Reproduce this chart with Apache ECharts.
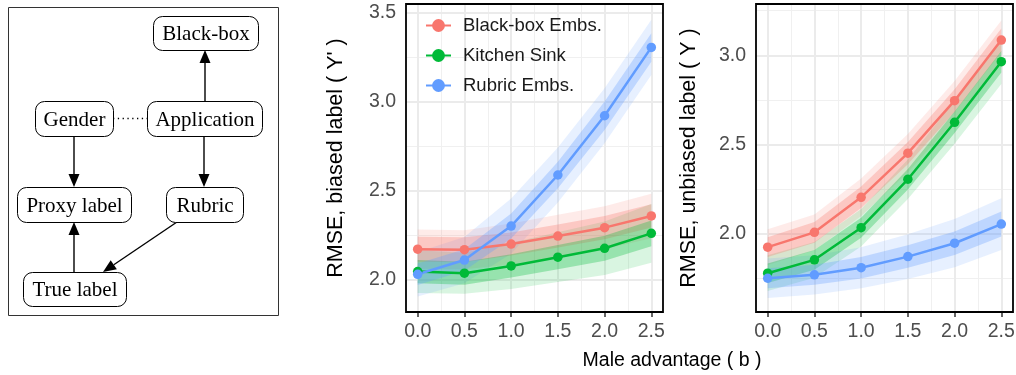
<!DOCTYPE html>
<html>
<head>
<meta charset="utf-8">
<script src="https://cdn.jsdelivr.net/npm/echarts@6/dist/echarts.min.js"></script>
<style>
  html, body { margin: 0; padding: 0; background: #fff; }
  #chart { width: 1016px; height: 375px; }
</style>
</head>
<body>
<div id="chart"></div>
<script>
const xValues = [0, 0.5, 1, 1.5, 2, 2.5];
const xTicks = [0, 0.5, 1, 1.5, 2, 2.5];
const xMinor = [0.25, 0.75, 1.25, 1.75, 2.25];
const biasedTicks = [2.0, 2.5, 3.0, 3.5];
const biasedMinor = [2.25, 2.75, 3.25];
const unbiasedTicks = [2.0, 2.5, 3.0];
const unbiasedMinor = [1.75, 2.25, 2.75, 3.25];

const seriesNames = ['Black-box Embs.', 'Kitchen Sink', 'Rubric Embs.'];
const seriesColors = ['#F8766D', '#00BA38', '#619CFF'];

// RMSE on the biased label (Y')
const biasedBlackbox = [2.169, 2.166, 2.198, 2.243, 2.290, 2.356];
const biasedKitchen = [2.043, 2.034, 2.075, 2.124, 2.174, 2.258];
const biasedRubric = [2.028, 2.108, 2.299, 2.586, 2.919, 3.303];
// bands as [low, high]
const biasedBlackboxInner = [[2.099, 2.239], [2.096, 2.236], [2.133, 2.263], [2.178, 2.308], [2.225, 2.355], [2.291, 2.421]];
const biasedBlackboxOuter = [[2.059, 2.279], [2.056, 2.276], [2.083, 2.313], [2.123, 2.363], [2.170, 2.410], [2.231, 2.481]];
const biasedKitchenInner = [[1.978, 2.108], [1.969, 2.099], [2.010, 2.140], [2.056, 2.192], [2.104, 2.244], [2.186, 2.330]];
const biasedKitchenOuter = [[1.923, 2.163], [1.919, 2.149], [1.945, 2.205], [1.984, 2.264], [2.024, 2.324], [2.093, 2.423]];
const biasedRubricInner = [[1.968, 2.088], [2.048, 2.168], [2.229, 2.369], [2.511, 2.661], [2.839, 2.999], [3.223, 3.383]];
const biasedRubricOuter = [[1.903, 2.153], [1.978, 2.238], [2.144, 2.454], [2.431, 2.741], [2.764, 3.074], [3.148, 3.458]];

// RMSE on the unbiased label (Y)
const unbiasedBlackbox = [1.926, 2.009, 2.205, 2.452, 2.746, 3.085];
const unbiasedKitchen = [1.780, 1.855, 2.035, 2.306, 2.625, 2.964];
const unbiasedRubric = [1.752, 1.771, 1.811, 1.873, 1.948, 2.055];
const unbiasedBlackboxInner = [[1.871, 1.981], [1.951, 2.067], [2.145, 2.265], [2.390, 2.514], [2.682, 2.810], [3.020, 3.150]];
const unbiasedBlackboxOuter = [[1.826, 2.026], [1.909, 2.109], [2.100, 2.310], [2.344, 2.560], [2.636, 2.856], [2.975, 3.195]];
const unbiasedKitchenInner = [[1.725, 1.835], [1.800, 1.910], [1.979, 2.091], [2.248, 2.364], [2.565, 2.685], [2.904, 3.024]];
const unbiasedKitchenOuter = [[1.680, 1.880], [1.755, 1.955], [1.930, 2.140], [2.196, 2.416], [2.505, 2.745], [2.839, 3.089]];
const unbiasedRubricInner = [[1.696, 1.808], [1.715, 1.827], [1.751, 1.871], [1.810, 1.936], [1.882, 2.014], [1.985, 2.125]];
const unbiasedRubricOuter = [[1.642, 1.862], [1.661, 1.881], [1.696, 1.926], [1.748, 1.998], [1.813, 2.083], [1.910, 2.200]];

// causal diagram on the left
const diagramNodes = [
  { label: 'Black-box', x: 153, y: 16, w: 105, h: 34 },
  { label: 'Gender', x: 35, y: 101, w: 78, h: 35 },
  { label: 'Application', x: 147, y: 101, w: 115, h: 35 },
  { label: 'Proxy label', x: 17, y: 187, w: 114, h: 35 },
  { label: 'Rubric', x: 166, y: 187, w: 77, h: 35 },
  { label: 'True label', x: 23, y: 272, w: 103, h: 34 }
];
const diagramArrows = [
  [205, 101, 205, 50],
  [74, 136, 74, 187],
  [204, 136, 204, 187],
  [74, 272, 74, 222],
  [177, 222, 103, 272]
];

const sans = "'Liberation Sans', Arial, Helvetica, sans-serif";
const serif = "'Liberation Serif', 'Times New Roman', serif";

const panels = [
  {
    left: 406, yMin: 1.816, yMax: 3.547, yTicks: biasedTicks, yMinor: biasedMinor,
    title: "RMSE, biased label ( Y' )", nameGap: 59,
    lines: [biasedBlackbox, biasedKitchen, biasedRubric],
    inner: [biasedBlackboxInner, biasedKitchenInner, biasedRubricInner],
    outer: [biasedBlackboxOuter, biasedKitchenOuter, biasedRubricOuter]
  },
  {
    left: 756, yMin: 1.563, yMax: 3.287, yTicks: unbiasedTicks, yMinor: unbiasedMinor,
    title: 'RMSE, unbiased label ( Y )', nameGap: 56,
    lines: [unbiasedBlackbox, unbiasedKitchen, unbiasedRubric],
    inner: [unbiasedBlackboxInner, unbiasedKitchenInner, unbiasedRubricInner],
    outer: [unbiasedBlackboxOuter, unbiasedKitchenOuter, unbiasedRubricOuter]
  }
];

function rgba(hex, a) {
  const n = parseInt(hex.slice(1), 16);
  return 'rgba(' + (n >> 16) + ',' + ((n >> 8) & 255) + ',' + (n & 255) + ',' + a + ')';
}

function gridSeries(g, p) {
  const major = { color: '#EBEBEB', width: 2, type: 'solid' };
  const minor = { color: '#F0F0F0', width: 1.1, type: 'solid' };
  const data = []
    .concat(xMinor.map(v => ({ xAxis: v, lineStyle: minor })))
    .concat(p.yMinor.map(v => ({ yAxis: v, lineStyle: minor })))
    .concat(xTicks.map(v => ({ xAxis: v, lineStyle: major })))
    .concat(p.yTicks.map(v => ({ yAxis: v, lineStyle: major })));
  return {
    type: 'line', xAxisIndex: g, yAxisIndex: g, data: [], silent: true, z: 1,
    markLine: { z: 1, silent: true, symbol: 'none', label: { show: false }, emphasis: { disabled: true }, data: data }
  };
}

// ribbon drawn as one polygon through the axes' own scales
function bandSeries(g, bounds, color, alpha) {
  return {
    type: 'custom', xAxisIndex: g, yAxisIndex: g, silent: true, z: 2,
    data: bounds.map((b, i) => [xValues[i], b[0], b[1]]),
    encode: { x: 0, y: [1, 2] },
    renderItem: function (params, api) {
      if (params.dataIndex !== 0) return null;
      const upper = bounds.map((b, i) => api.coord([xValues[i], b[1]]));
      const lower = bounds.map((b, i) => api.coord([xValues[i], b[0]])).reverse();
      return { type: 'polygon', shape: { points: upper.concat(lower) }, style: { fill: rgba(color, alpha) } };
    }
  };
}

function lineSeries(g, i, values) {
  return {
    type: 'line', name: seriesNames[i], xAxisIndex: g, yAxisIndex: g,
    data: values.map((v, k) => [xValues[k], v]),
    symbol: 'circle', symbolSize: 9.5, showSymbol: true,
    lineStyle: { color: seriesColors[i], width: 2.5 },
    itemStyle: { color: seriesColors[i] }, z: 3
  };
}

const series = [];
panels.forEach((p, g) => {
  series.push(gridSeries(g, p));
  p.outer.forEach((b, i) => series.push(bandSeries(g, b, seriesColors[i], 0.15)));
  p.inner.forEach((b, i) => series.push(bandSeries(g, b, seriesColors[i], 0.3)));
  p.lines.forEach((v, i) => series.push(lineSeries(g, i, v)));
});

function arrowGraphics(a) {
  const [x1, y1, x2, y2] = a;
  const len = Math.hypot(x2 - x1, y2 - y1);
  const ux = (x2 - x1) / len, uy = (y2 - y1) / len;
  const head = 13, half = 5.5;
  const bx = x2 - ux * head, by = y2 - uy * head;
  return [
    { type: 'line', shape: { x1: x1, y1: y1, x2: bx, y2: by }, style: { stroke: '#000', lineWidth: 1.4 } },
    { type: 'polygon', shape: { points: [[x2, y2], [bx - uy * half, by + ux * half], [bx + uy * half, by - ux * half]] }, style: { fill: '#000' } }
  ];
}

const diagram = [
  { type: 'rect', shape: { x: 8.5, y: 7.5, width: 270, height: 308 }, style: { fill: '#fff', stroke: '#333', lineWidth: 1 } },
  { type: 'line', shape: { x1: 113, y1: 118.5, x2: 147, y2: 118.5 }, style: { stroke: '#000', lineWidth: 1.3, lineDash: [1.3, 3.5] } }
];
diagramArrows.forEach(a => diagram.push(...arrowGraphics(a)));
diagramNodes.forEach(n => {
  diagram.push({ type: 'rect', shape: { x: n.x + 0.5, y: n.y + 0.5, width: n.w, height: n.h, r: 9 }, style: { fill: '#fff', stroke: '#000', lineWidth: 1 } });
  diagram.push({ type: 'text', x: n.x + n.w / 2 + 0.5, y: n.y + n.h / 2 + 1.5, style: { text: n.label, font: '21px ' + serif, fill: '#000', align: 'center', verticalAlign: 'middle' } });
});
diagram.push({
  type: 'text', x: 672, y: 361,
  style: { text: 'Male advantage ( b )', font: '19.5px ' + sans, fill: '#000', align: 'center', verticalAlign: 'middle' }
});

const chart = echarts.init(document.getElementById('chart'));
chart.setOption({
  animation: false,
  backgroundColor: '#fff',
  grid: panels.map(p => ({
    left: p.left, top: 4, width: 257, height: 308, show: true,
    borderColor: '#000', borderWidth: 1.8, z: 10, outerBoundsMode: 'none'
  })),
  xAxis: panels.map((p, g) => ({
    type: 'value', gridIndex: g, min: -0.125, max: 2.625,
    axisLine: { show: false },
    axisTick: { show: true, length: 5, customValues: xTicks, lineStyle: { color: '#333', width: 1.5 } },
    axisLabel: { customValues: xTicks, formatter: v => v.toFixed(1), color: '#4D4D4D', fontSize: 19.5, margin: 10, fontFamily: sans },
    splitLine: { show: false }
  })),
  yAxis: panels.map((p, g) => ({
    type: 'value', gridIndex: g, min: p.yMin, max: p.yMax,
    name: p.title, nameLocation: 'middle', nameGap: p.nameGap,
    nameTextStyle: { color: '#000', fontSize: 21.5, fontFamily: sans },
    axisLine: { show: false },
    axisTick: { show: true, length: 5, customValues: p.yTicks, lineStyle: { color: '#333', width: 1.5 } },
    axisLabel: { customValues: p.yTicks, formatter: v => v.toFixed(1), color: '#4D4D4D', fontSize: 19.5, margin: 10, fontFamily: sans },
    splitLine: { show: false }
  })),
  legend: {
    data: seriesNames, orient: 'vertical', left: 420, top: 11, z: 20,
    itemWidth: 25, itemHeight: 16, itemGap: 11,
    textStyle: { fontSize: 18.5, color: '#1A1A1A', fontFamily: sans, lineHeight: 18, padding: [0, 0, 0, 7] }
  },
  graphic: diagram,
  series: series
});
</script>
</body>
</html>
